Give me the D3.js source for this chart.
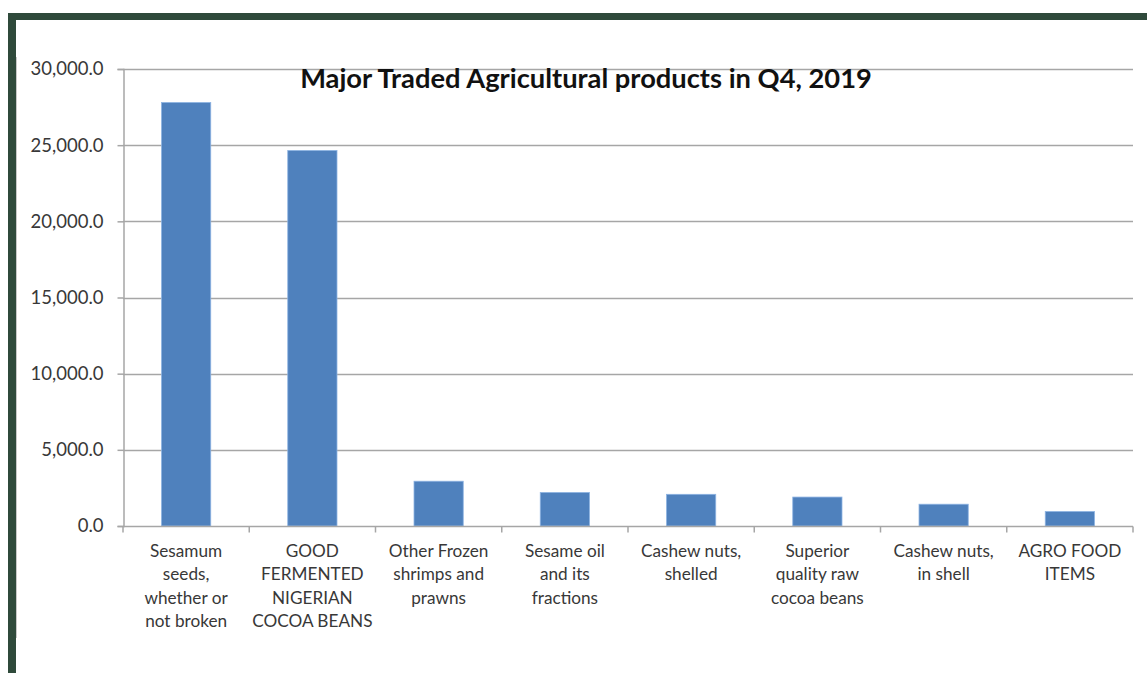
<!DOCTYPE html>
<html>
<head>
<meta charset="utf-8">
<script src="https://cdn.jsdelivr.net/npm/d3@7"></script>
<style>
  body { margin: 0; background: #fff; }
  svg { display: block; }
</style>
</head>
<body>
<svg></svg>
<script>
//--Data
var categories = [
  ["Sesamum", "seeds,", "whether or", "not broken"],
  ["GOOD", "FERMENTED", "NIGERIAN", "COCOA BEANS"],
  ["Other Frozen", "shrimps and", "prawns"],
  ["Sesame oil", "and its", "fractions"],
  ["Cashew nuts,", "shelled"],
  ["Superior", "quality raw", "cocoa beans"],
  ["Cashew nuts,", "in shell"],
  ["AGRO FOOD", "ITEMS"]
];
var values = [27800, 24650, 2940, 2200, 2080, 1900, 1430, 950];
var yTicks = [0, 5000, 10000, 15000, 20000, 25000, 30000];
var title = "Major Traded Agricultural products in Q4, 2019";

//--Shared info
var canvas = {
  width: 1147,
  height: 673,
  left: 123,
  right: 1133,
  top: 69,
  bottom: 526,
  font: "Lato, 'Open Sans', sans-serif",
  bar: "#4f81bd",
  grid: "#a6a6a6",
  text: "#383838",
  frame: "#2f4a3b"
};

var x = d3.scaleBand()
  .domain(d3.range(categories.length))
  .range([canvas.left, canvas.right])
  .paddingInner(0.61)
  .paddingOuter(0.305);
var xBand = d3.scaleBand()
  .domain(d3.range(categories.length))
  .range([canvas.left, canvas.right]);
var y = d3.scaleLinear().domain([0, 30000]).range([canvas.bottom, canvas.top]);

let root = d3.select("svg")
  .attr("width", canvas.width)
  .attr("height", canvas.height);

//Page frame
root.append("rect").attr("x", 8).attr("y", 13).attr("width", canvas.width - 8).attr("height", 7).attr("fill", canvas.frame);
root.append("rect").attr("x", 8).attr("y", 13).attr("width", 8).attr("height", canvas.height - 13).attr("fill", canvas.frame);
root.append("line").attr("x1", 16.5).attr("x2", 16.5).attr("y1", 57).attr("y2", 638)
  .attr("stroke", "#c8c8c8").attr("stroke-width", 1);

//Gridlines
root.append("g")
  .selectAll("line")
  .data(yTicks.slice(1))
  .enter()
  .append("line")
  .attr("x1", canvas.left)
  .attr("x2", canvas.right)
  .attr("y1", d => Math.round(y(d)) + 0.5)
  .attr("y2", d => Math.round(y(d)) + 0.5)
  .attr("stroke", canvas.grid)
  .attr("stroke-width", 1.5);

//Y axis
let yAxis = root.append("g")
  .attr("transform", "translate(" + (canvas.left + 0.5) + ",0)")
  .call(d3.axisLeft(y).tickValues(yTicks).tickSize(6).tickPadding(14).tickFormat(d3.format(",.1f")));
yAxis.select(".domain").attr("stroke", canvas.grid).attr("stroke-width", 1.5);
yAxis.selectAll(".tick line").attr("stroke", canvas.grid).attr("stroke-width", 1.5);
yAxis.selectAll(".tick text")
  .attr("fill", canvas.text)
  .style("font-family", canvas.font)
  .style("font-size", "18.5px");

//Bars
root.append("g")
  .selectAll("rect")
  .data(values)
  .enter()
  .append("rect")
  .attr("x", (d, i) => x(i))
  .attr("width", x.bandwidth())
  .attr("y", d => y(d))
  .attr("height", d => y(0) - y(d))
  .attr("fill", canvas.bar)
  .attr("stroke", "#8db3e2")
  .attr("stroke-width", 0.8);

//X axis
let xAxis = root.append("g")
  .attr("transform", "translate(0," + (canvas.bottom + 0.5) + ")");
xAxis.append("line")
  .attr("x1", canvas.left).attr("x2", canvas.right)
  .attr("stroke", canvas.grid).attr("stroke-width", 1.5);
xAxis.selectAll("line.tk")
  .data(d3.range(categories.length + 1))
  .enter()
  .append("line")
  .classed("tk", true)
  .attr("x1", i => i < categories.length ? xBand(i) : canvas.right)
  .attr("x2", i => i < categories.length ? xBand(i) : canvas.right)
  .attr("y1", 0).attr("y2", 6)
  .attr("stroke", canvas.grid).attr("stroke-width", 1.5);

//Category labels
root.append("g")
  .selectAll("text")
  .data(categories)
  .enter()
  .append("text")
  .attr("text-anchor", "middle")
  .attr("fill", canvas.text)
  .style("font-family", canvas.font)
  .style("font-size", "17.2px")
  .each(function (d, i) {
    d3.select(this)
      .selectAll("tspan")
      .data(d)
      .enter()
      .append("tspan")
      .attr("x", xBand(i) + xBand.bandwidth() / 2)
      .attr("y", (t, j) => 557 + j * 23.3)
      .text(t => t);
  });

//Title
root.append("text")
  .attr("x", 586)
  .attr("y", 88)
  .attr("text-anchor", "middle")
  .attr("fill", "#111")
  .style("font-family", canvas.font)
  .style("font-weight", "bold")
  .style("font-size", "27.3px")
  .text(title);
</script>
</body>
</html>
